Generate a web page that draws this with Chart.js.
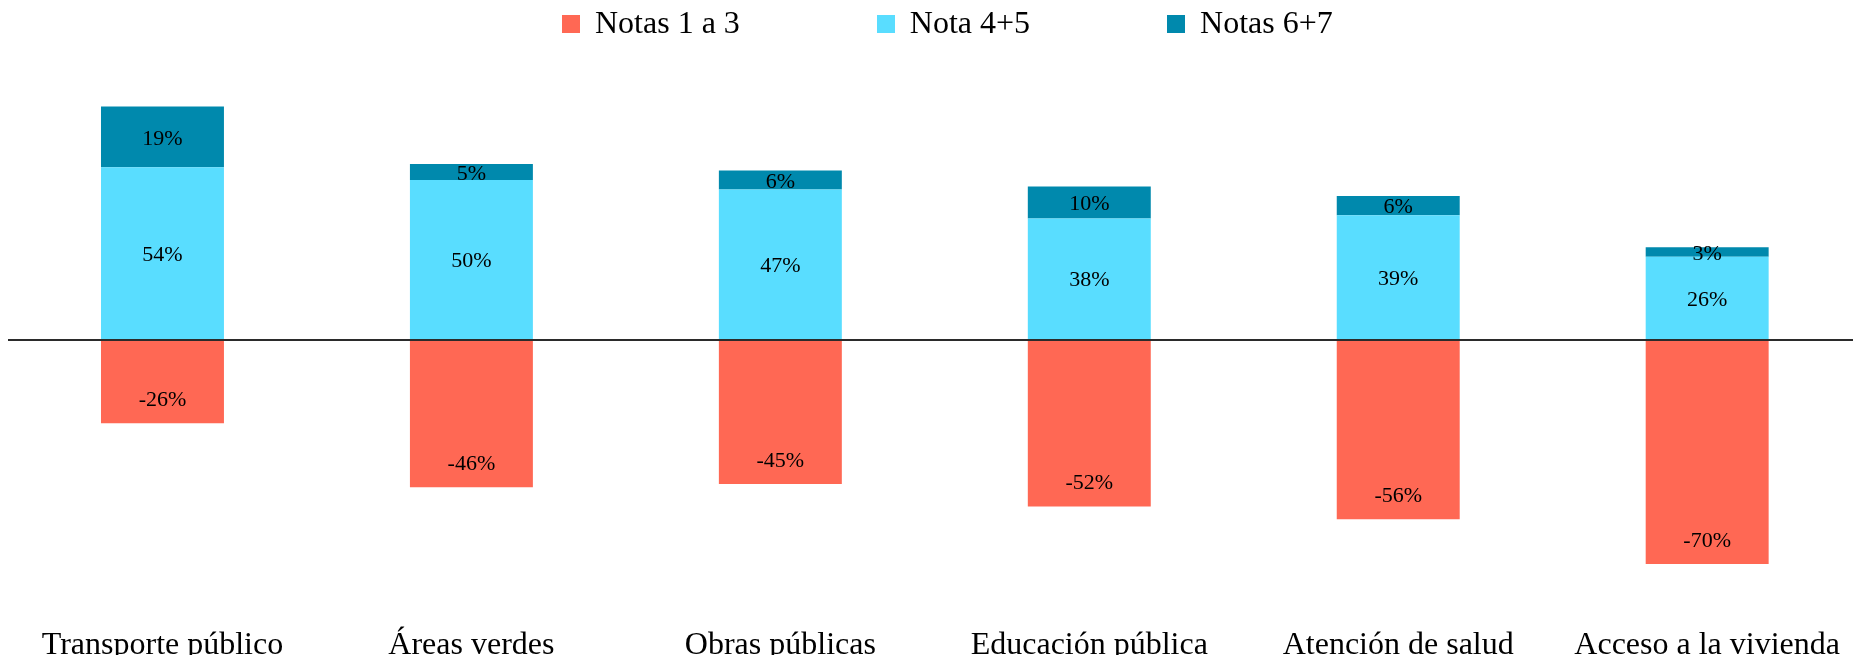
<!DOCTYPE html>
<html lang="es">
<head>
<meta charset="utf-8">
<title>Notas por servicio</title>
<script src="https://cdn.jsdelivr.net/npm/chart.js@4/dist/chart.umd.min.js"></script>
<style>
  html, body { margin: 0; padding: 0; background: #fff; overflow: hidden; }
  body { width: 1853px; height: 655px; position: relative; }
  .chart-wrap { position: absolute; left: 0; top: 0; width: 1862px; height: 655px; }
  .legend {
    position: absolute; top: 0; left: 562px; height: 44px;
    display: flex; align-items: center;
    font-family: "Liberation Serif", "Times New Roman", serif; font-size: 32px; color: #000;
  }
  .legend-item { display: flex; align-items: center; margin-right: 137px; }
  .legend-item:last-child { margin-right: 0; }
  .legend-box { width: 18px; height: 18px; margin-right: 15px; margin-top: 3px; }
</style>
</head>
<body>
<div class="chart-wrap"><canvas id="barChart"></canvas></div>
<div class="legend" id="legend"></div>

<script>
// Categories and series (percent)
const categories = [
  "Transporte público",
  "Áreas verdes",
  "Obras públicas",
  "Educación pública",
  "Atención de salud",
  "Acceso a la vivienda",
];
const notas1a3 = [-26, -46, -45, -52, -56, -70];
const nota4y5 = [54, 50, 47, 38, 39, 26];
const notas6y7 = [19, 5, 6, 10, 6, 3];

const seriesNames = ["Notas 1 a 3", "Nota 4+5", "Notas 6+7"];
const seriesColors = ["#FF6854", "#59DDFF", "#0089AD"];

const FONT = '"Liberation Serif", "Times New Roman", serif';

// Legend (fixed gaps between items like the original)
const legendEl = document.getElementById("legend");
seriesNames.forEach((name, i) => {
  const item = document.createElement("div");
  item.className = "legend-item";
  item.innerHTML = '<span class="legend-box" style="background:' + seriesColors[i] + '"></span><span>' + name + "</span>";
  legendEl.appendChild(item);
});

// Draw the percent labels on each segment
const valueLabels = {
  id: "valueLabels",
  afterDatasetsDraw(chart) {
    const ctx = chart.ctx;
    ctx.save();
    ctx.font = "22px " + FONT;
    ctx.fillStyle = "#000";
    ctx.textAlign = "center";
    ctx.textBaseline = "middle";
    chart.data.datasets.forEach((ds, di) => {
      const meta = chart.getDatasetMeta(di);
      meta.data.forEach((bar, i) => {
        const v = ds.data[i];
        let y;
        if (v < 0) {
          y = bar.y - 23; // negative labels sit near the bottom end
        } else {
          y = (bar.y + bar.base) / 2 + 2;
        }
        ctx.fillText(v + "%", bar.x, y);
      });
    });
    ctx.restore();
  },
};

const ctx = document.getElementById("barChart").getContext("2d");
new Chart(ctx, {
  type: "bar",
  data: {
    labels: categories,
    datasets: [
      { label: seriesNames[0], data: notas1a3, backgroundColor: seriesColors[0] },
      { label: seriesNames[1], data: nota4y5, backgroundColor: seriesColors[1] },
      { label: seriesNames[2], data: notas6y7, backgroundColor: seriesColors[2] },
    ],
  },
  options: {
    responsive: true,
    maintainAspectRatio: false,
    animation: false,
    layout: { padding: { left: 8, right: 0, top: 84, bottom: 0 } },
    datasets: {
      bar: { categoryPercentage: 1, barPercentage: 0.398, borderWidth: 0 },
    },
    plugins: {
      legend: { display: false },
      tooltip: { enabled: false },
    },
    scales: {
      x: {
        stacked: true,
        grid: { display: false },
        border: { display: false },
        ticks: {
          color: "#000",
          font: { family: FONT, size: 32 },
          padding: 22,
          maxRotation: 0,
          autoSkip: false,
        },
        afterFit: (scale) => { scale.height = 59; },
      },
      y: {
        stacked: true,
        min: -80,
        max: 80,
        ticks: { display: false, stepSize: 10 },
        border: { display: false },
        grid: {
          drawTicks: false,
          lineWidth: 2,
          color: (c) => (c.tick && c.tick.value === 0 ? "#2b2b2b" : "rgba(0,0,0,0)"),
        },
      },
    },
  },
  plugins: [valueLabels],
});
</script>
</body>
</html>
